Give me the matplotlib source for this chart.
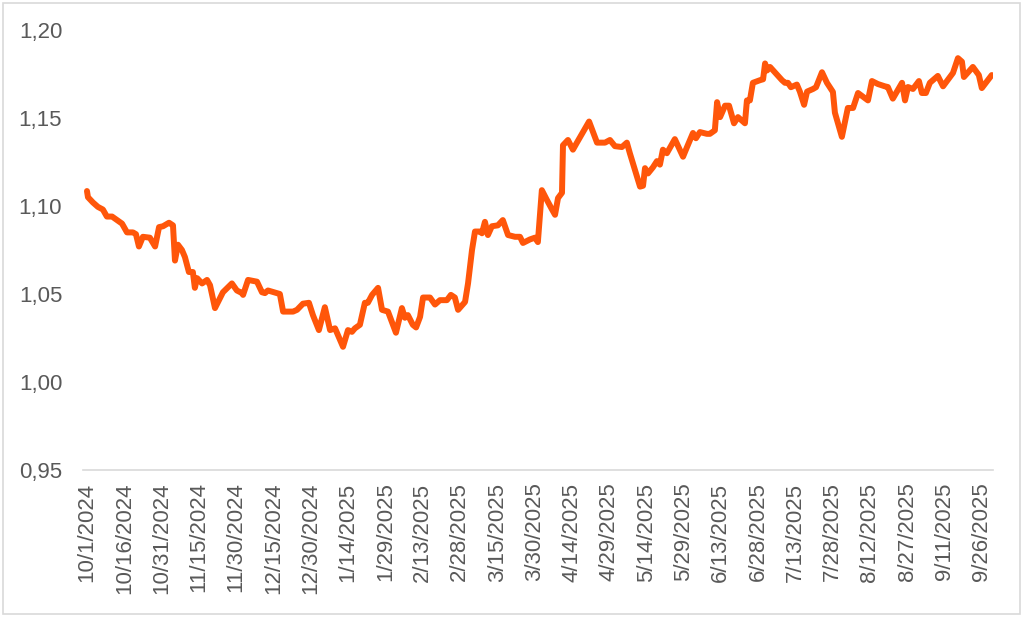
import numpy as np
import pandas as pd
import matplotlib
matplotlib.use("Agg")
import matplotlib.pyplot as plt
import matplotlib.dates as mdates
from matplotlib.patches import Rectangle
from matplotlib.ticker import FuncFormatter

# days since 2024-10-01 and the rate
START = "2024-10-01"
days = [
    0, 0.4, 2.4, 4.4, 6.4, 8.0, 10.1, 12.1, 14.1, 16.1, 18.5, 19.7, 20.9, 22.5,
    25.3, 27.4, 29.0, 30.6, 33.0, 34.6, 35.4, 36.6, 38.2, 39.4, 41.0, 42.6, 43.4,
    44.3, 46.3, 48.3, 49.5, 51.5, 53.1, 54.7, 58.3, 60.3, 62.4, 62.8, 64.8, 68.4,
    70.4, 71.6, 72.8, 76.4, 77.6, 78.9, 82.9, 84.5, 86.9, 89.3, 90.9, 93.3, 95.7,
    97.8, 99.8, 103.0, 105.0, 106.6, 107.8, 109.8, 111.8, 113.0, 114.7, 117.1,
    118.7, 121.1, 124.3, 126.7, 127.9, 129.1, 131.1, 132.4, 134.0, 135.2, 138.0,
    140.0, 142.0, 144.8, 146.4, 148.0, 149.3, 152.1, 153.3, 154.9, 156.1, 158.1,
    158.9, 160.1, 161.3, 162.9, 165.3, 167.3, 169.4, 172.2, 174.2, 175.4, 178.2,
    180.2, 181.4, 183.0, 185.0, 187.1, 188.3, 189.5, 191.1, 191.5, 193.5, 195.5,
    197.1, 202.0, 205.2, 208.4, 210.4, 212.4, 215.2, 217.2, 218.4, 222.5, 223.7,
    224.5, 225.7, 227.7, 229.3, 230.5, 231.7, 233.3, 236.5, 239.8, 241.4, 243.8,
    245.0, 246.6, 249.4, 250.6, 252.6, 253.5, 254.7, 256.7, 258.3, 260.3, 261.9,
    264.7, 265.5, 266.7, 267.9, 270.8, 272.0, 272.8, 273.6, 274.8, 279.6, 280.8,
    282.0, 283.2, 285.6, 286.8, 288.5, 289.7, 292.1, 293.3, 295.7, 297.7, 300.1,
    300.9, 303.7, 306.1, 308.2, 310.2, 314.2, 315.8, 318.2, 321.0, 322.2, 324.2,
    327.9, 329.1, 330.3, 332.3, 334.7, 335.9, 337.5, 339.1, 342.3, 344.4, 348.4,
    350.4, 352.0, 352.8, 356.4, 358.8, 360.0, 364.0,
]
rate = [
    1.1085, 1.105, 1.102, 1.0995, 1.098, 1.094, 1.094, 1.092, 1.090, 1.085, 1.085,
    1.084, 1.077, 1.0825, 1.082, 1.077, 1.088, 1.0885, 1.0905, 1.089, 1.069, 1.078,
    1.075, 1.071, 1.0625, 1.0625, 1.0535, 1.059, 1.056, 1.058, 1.055, 1.042,
    1.0465, 1.051, 1.056, 1.052, 1.0505, 1.0495, 1.058, 1.057, 1.051, 1.0505,
    1.052, 1.0505, 1.050, 1.040, 1.040, 1.041, 1.0445, 1.045, 1.038, 1.0295,
    1.0425, 1.0295, 1.0305, 1.020, 1.0295, 1.0285, 1.0305, 1.0325, 1.045, 1.045,
    1.0495, 1.0535, 1.041, 1.040, 1.028, 1.042, 1.0365, 1.038, 1.0325, 1.031,
    1.037, 1.048, 1.048, 1.044, 1.0465, 1.0465, 1.0495, 1.048, 1.041, 1.0455,
    1.056, 1.075, 1.0855, 1.0855, 1.0845, 1.091, 1.0835, 1.0885, 1.089, 1.092,
    1.0835, 1.0825, 1.0825, 1.079, 1.081, 1.082, 1.0795, 1.109, 1.1035, 1.098,
    1.095, 1.1045, 1.1075, 1.1345, 1.1375, 1.132, 1.136, 1.148, 1.136, 1.136,
    1.1375, 1.134, 1.1335, 1.136, 1.130, 1.111, 1.1115, 1.1215, 1.1185, 1.122,
    1.1255, 1.1235, 1.132, 1.130, 1.138, 1.128, 1.1335, 1.1415, 1.1385, 1.142,
    1.141, 1.141, 1.143, 1.159, 1.1505, 1.157, 1.157, 1.147, 1.1505, 1.147, 1.160,
    1.160, 1.170, 1.1715, 1.172, 1.181, 1.177, 1.179, 1.1715, 1.170, 1.170,
    1.1675, 1.169, 1.165, 1.1575, 1.165, 1.1665, 1.1675, 1.176, 1.170, 1.1648,
    1.153, 1.1393, 1.1557, 1.1557, 1.1642, 1.160, 1.171, 1.1693, 1.168, 1.1676,
    1.161, 1.170, 1.160, 1.1676, 1.1665, 1.171, 1.1642, 1.1642, 1.170, 1.1739,
    1.168, 1.1756, 1.184, 1.182, 1.1733, 1.179, 1.1744, 1.167, 1.1744,
]
tick_step_days = 15
y_ticks = [0.95, 1.00, 1.05, 1.10, 1.15, 1.20]

LINE = "#FF560A"
GREY = "#595959"
RULE = "#D9D9D9"

plt.rcParams["font.family"] = ["Liberation Sans", "DejaVu Sans"]

start = pd.Timestamp(START)
dates = start + pd.to_timedelta(days, unit="D")

fig = plt.figure(figsize=(10.24, 6.2), dpi=100)
ax = fig.add_axes([83 / 1024, 1 - 470 / 620, 910 / 1024, 440 / 620])

ax.plot(dates, rate, color=LINE, lw=4.3, solid_joinstyle="round",
        solid_capstyle="round")

ax.set_xlim(start - pd.Timedelta(days=1.6), start + pd.Timedelta(days=364.5))
ax.set_ylim(0.95, 1.20)

ticks = pd.date_range(start, start + pd.Timedelta(days=364), freq=f"{tick_step_days}D")
ax.set_xticks(ticks)
ax.set_xticklabels([f"{t.month}/{t.day}/{t.year}" for t in ticks],
                   rotation=90, fontsize=16, color=GREY)
ax.set_yticks(y_ticks)
ax.yaxis.set_major_formatter(FuncFormatter(lambda v, _: f"{v:.2f}".replace(".", ",")))
ax.tick_params(axis="y", length=0, pad=15, labelsize=16, labelcolor=GREY)
ax.tick_params(axis="x", length=0, pad=9)

for side in ("top", "right", "left"):
    ax.spines[side].set_visible(False)
ax.spines["bottom"].set_color(RULE)
ax.spines["bottom"].set_linewidth(1.2)

fig.patches.append(Rectangle((3 / 1024, 1 - 614 / 620), 1017 / 1024, 611 / 620,
                             transform=fig.transFigure, fill=False,
                             edgecolor=RULE, lw=1.2))

fig.savefig("out.png", dpi=100)
